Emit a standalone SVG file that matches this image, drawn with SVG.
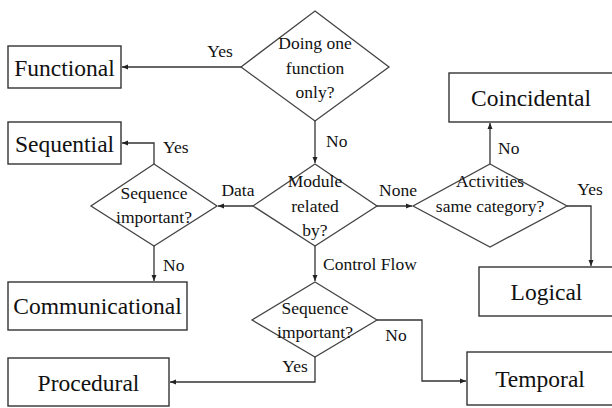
<svg xmlns="http://www.w3.org/2000/svg" width="612" height="408" viewBox="0 0 612 408">
<style>
.box{fill:#fff;stroke:#333;stroke-width:1.4}
.dia{fill:#fff;stroke:#444;stroke-width:1.3}
text{font-family:"Liberation Serif","Times New Roman",serif;fill:#111}
.bt{font-size:23.5px;text-anchor:middle}
.dt{font-size:17.5px;text-anchor:middle}
.lb{font-size:17.5px}
.c{fill:none;stroke:#333;stroke-width:1.3}
</style>
<defs>
<marker id="ah" markerWidth="7" markerHeight="6" refX="6" refY="3" orient="auto" markerUnits="userSpaceOnUse">
<path d="M0,0.5 L6,3 L0,5.5 Z" fill="#222"/>
</marker>
</defs>
<rect width="612" height="408" fill="#fff"/>
<g id="connectors">
<path class="c" d="M241,67 H122" marker-end="url(#ah)"/>
<path class="c" d="M315,121 V163" marker-end="url(#ah)"/>
<path class="c" d="M253,206 H218" marker-end="url(#ah)"/>
<path class="c" d="M377,206 H412" marker-end="url(#ah)"/>
<path class="c" d="M315,246 V281" marker-end="url(#ah)"/>
<path class="c" d="M154,164 V143 H122" marker-end="url(#ah)"/>
<path class="c" d="M154,246 V281" marker-end="url(#ah)"/>
<path class="c" d="M315,357 V382 H170" marker-end="url(#ah)"/>
<path class="c" d="M377,320 H422 V381 H466" marker-end="url(#ah)"/>
<path class="c" d="M490,164 V123" marker-end="url(#ah)"/>
<path class="c" d="M567,206 H591 V266" marker-end="url(#ah)"/>
<text class="lb" x="220" y="57" text-anchor="middle">Yes</text>
<text class="lb" x="326" y="147">No</text>
<text class="lb" x="238" y="196" text-anchor="middle">Data</text>
<text class="lb" x="398" y="196" text-anchor="middle">None</text>
<text class="lb" x="323" y="270">Control Flow</text>
<text class="lb" x="163" y="153">Yes</text>
<text class="lb" x="163" y="271">No</text>
<text class="lb" x="295" y="372" text-anchor="middle">Yes</text>
<text class="lb" x="396" y="341" text-anchor="middle">No</text>
<text class="lb" x="498" y="154">No</text>
<text class="lb" x="590" y="195" text-anchor="middle">Yes</text>
</g>
<g id="functional"><rect class="box" x="8" y="46" width="113" height="42"/><text class="bt" x="64.5" y="76">Functional</text></g>
<g id="sequential"><rect class="box" x="8" y="122" width="113" height="42"/><text class="bt" x="64.5" y="152">Sequential</text></g>
<g id="communicational"><rect class="box" x="8" y="282" width="179" height="48"/><text class="bt" x="97.5" y="314">Communicational</text></g>
<g id="procedural"><rect class="box" x="8" y="358" width="161" height="48"/><text class="bt" x="88.5" y="391">Procedural</text></g>
<g id="coincidental"><rect class="box" x="449" y="73" width="166" height="49"/><text class="bt" x="531" y="106">Coincidental</text></g>
<g id="logical"><rect class="box" x="479" y="267" width="136" height="49"/><text class="bt" x="546.5" y="300">Logical</text></g>
<g id="temporal"><rect class="box" x="467" y="352" width="148" height="53"/><text class="bt" x="540" y="387">Temporal</text></g>
<g id="q-one-function"><path class="dia" d="M315,11 L389,67 L315,121 L241,67 Z"/><text class="dt" x="315" y="49">Doing one</text><text class="dt" x="315" y="73.5">function</text><text class="dt" x="315" y="98">only?</text></g>
<g id="q-related-by"><path class="dia" d="M315,164 L377,206 L315,246 L253,206 Z"/><text class="dt" x="315" y="187">Module</text><text class="dt" x="315" y="212">related</text><text class="dt" x="315" y="236">by?</text></g>
<g id="q-seq-data"><path class="dia" d="M154,164 L217,206 L154,246 L91,206 Z"/><text class="dt" x="154" y="199">Sequence</text><text class="dt" x="154" y="223">important?</text></g>
<g id="q-activities"><path class="dia" d="M490,164 L567,206 L490,247 L413,206 Z"/><text class="dt" x="490" y="187">Activities</text><text class="dt" x="490" y="212">same category?</text></g>
<g id="q-seq-control"><path class="dia" d="M315,282 L377,320 L315,357 L252,320 Z"/><text class="dt" x="315" y="314">Sequence</text><text class="dt" x="315" y="338">important?</text></g>
</svg>
